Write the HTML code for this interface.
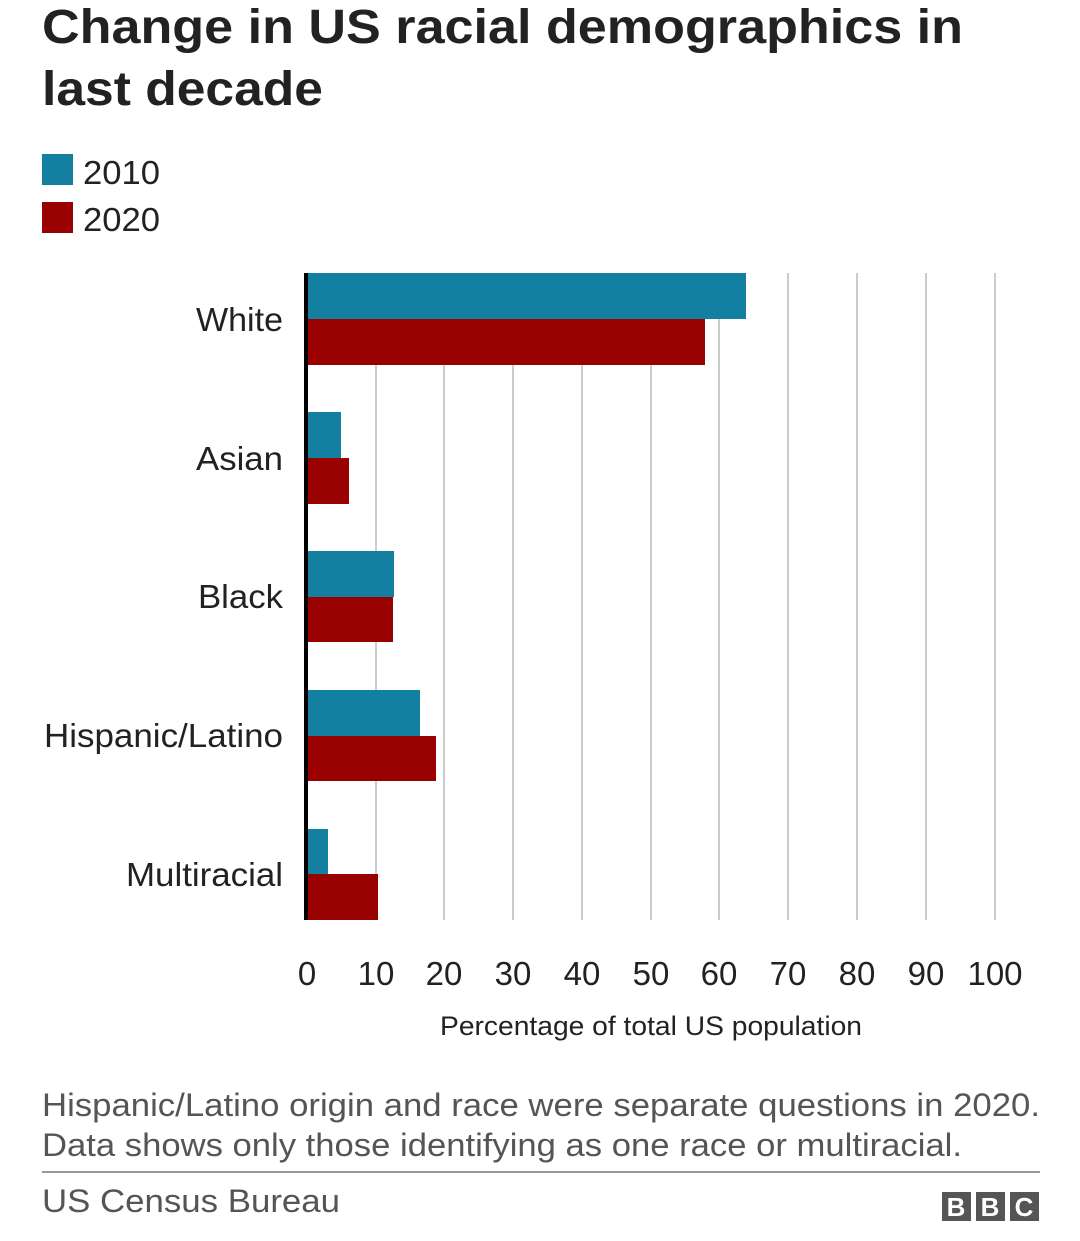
<!DOCTYPE html>
<html><head><meta charset="utf-8"><style>
body{margin:0;background:#fff;width:1080px;height:1236px;overflow:hidden;font-family:"Liberation Sans",Arial,sans-serif;}
</style></head><body>
<svg width="1080" height="1236" xmlns="http://www.w3.org/2000/svg" font-family="Liberation Sans, Arial, sans-serif">
<text x="42" y="43" font-size="48" font-weight="bold" fill="#222" textLength="921" lengthAdjust="spacingAndGlyphs">Change in US racial demographics in</text>
<text x="42" y="105" font-size="48" font-weight="bold" fill="#222" textLength="281" lengthAdjust="spacingAndGlyphs">last decade</text>
<rect x="42" y="154" width="31" height="31" fill="#1380A1"/>
<text x="83" y="184" font-size="33" fill="#222" textLength="77" lengthAdjust="spacingAndGlyphs">2010</text>
<rect x="42" y="202" width="31" height="31" fill="#990000"/>
<text x="83" y="231" font-size="33" fill="#222" textLength="77" lengthAdjust="spacingAndGlyphs">2020</text>
<g stroke="#ccc" stroke-width="2">
<line x1="376" y1="273" x2="376" y2="920"/><line x1="444" y1="273" x2="444" y2="920"/><line x1="513" y1="273" x2="513" y2="920"/><line x1="582" y1="273" x2="582" y2="920"/><line x1="651" y1="273" x2="651" y2="920"/><line x1="719" y1="273" x2="719" y2="920"/><line x1="788" y1="273" x2="788" y2="920"/><line x1="857" y1="273" x2="857" y2="920"/><line x1="926" y1="273" x2="926" y2="920"/><line x1="995" y1="273" x2="995" y2="920"/>
</g>
<g fill="#1380A1">
<rect x="308" y="273" width="438" height="46"/><rect x="308" y="412" width="33" height="46"/><rect x="308" y="551" width="86" height="46"/><rect x="308" y="690" width="112" height="46"/><rect x="308" y="829" width="20" height="45"/>
</g>
<g fill="#990000">
<rect x="308" y="319" width="397" height="46"/><rect x="308" y="458" width="41" height="46"/><rect x="308" y="597" width="85" height="45"/><rect x="308" y="736" width="128" height="45"/><rect x="308" y="874" width="70" height="46"/>
</g>
<rect x="304" y="273" width="4" height="647" fill="#000"/>
<g font-size="33" fill="#222" lengthAdjust="spacingAndGlyphs">
<text x="196" y="331" textLength="87" lengthAdjust="spacingAndGlyphs">White</text>
<text x="196" y="470" textLength="87" lengthAdjust="spacingAndGlyphs">Asian</text>
<text x="198" y="608" textLength="85" lengthAdjust="spacingAndGlyphs">Black</text>
<text x="44" y="747" textLength="239" lengthAdjust="spacingAndGlyphs">Hispanic/Latino</text>
<text x="126" y="886" textLength="157" lengthAdjust="spacingAndGlyphs">Multiracial</text>
</g>
<g font-size="33" fill="#222" text-anchor="middle">
<text x="307" y="985">0</text><text x="376" y="985">10</text><text x="444" y="985">20</text><text x="513" y="985">30</text><text x="582" y="985">40</text><text x="651" y="985">50</text><text x="719" y="985">60</text><text x="788" y="985">70</text><text x="857" y="985">80</text><text x="926" y="985">90</text><text x="995" y="985">100</text>
</g>
<text x="440" y="1035" font-size="27" fill="#222" textLength="422" lengthAdjust="spacingAndGlyphs">Percentage of total US population</text>
<text x="42" y="1116" font-size="32" fill="#555" textLength="998" lengthAdjust="spacingAndGlyphs">Hispanic/Latino origin and race were separate questions in 2020.</text>
<text x="42" y="1156" font-size="32" fill="#555" textLength="920" lengthAdjust="spacingAndGlyphs">Data shows only those identifying as one race or multiracial.</text>
<rect x="42" y="1171" width="998" height="2" fill="#999"/>
<text x="42" y="1212" font-size="32" fill="#555" textLength="298" lengthAdjust="spacingAndGlyphs">US Census Bureau</text>
<g fill="#555"><rect x="942" y="1192" width="29" height="29"/><rect x="976" y="1192" width="29" height="29"/><rect x="1010" y="1192" width="29" height="29"/></g>
<g fill="#fff" font-size="26" font-weight="bold" text-anchor="middle"><text x="956" y="1216">B</text><text x="990" y="1216">B</text><text x="1024" y="1216">C</text></g>
</svg>
</body></html>
